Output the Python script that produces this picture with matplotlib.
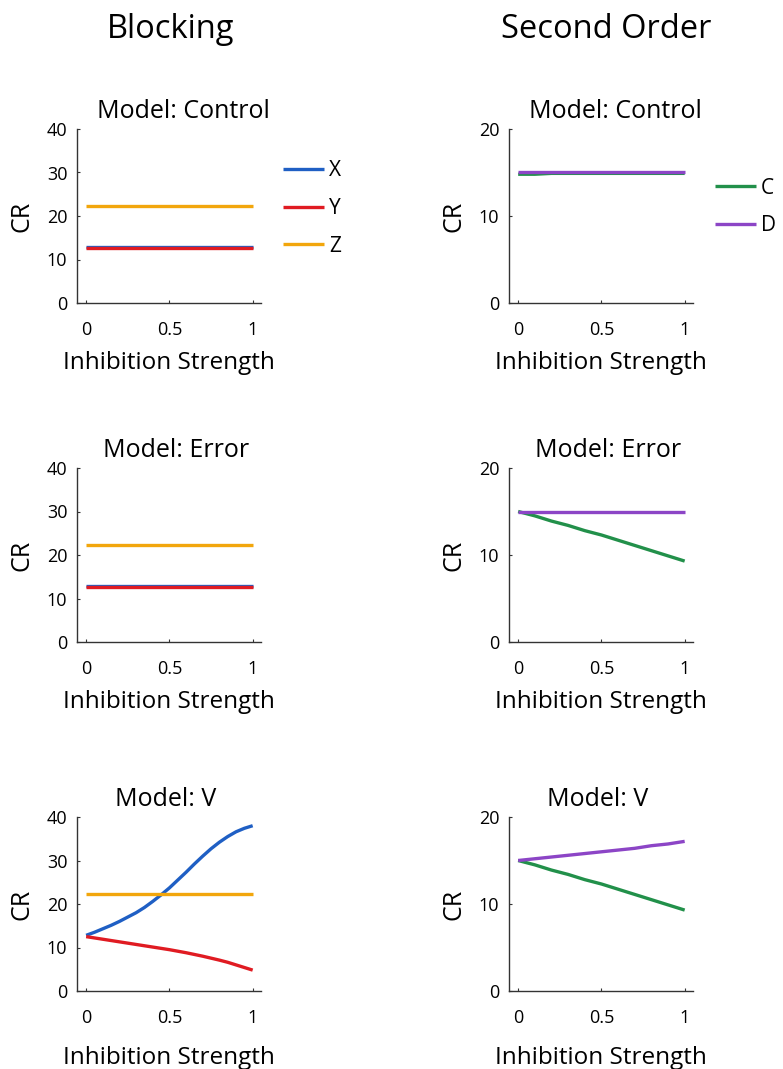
import numpy as np
import matplotlib.pyplot as plt

plt.rcParams['font.family'] = ['Open Sans', 'DejaVu Sans']

# inhibition strength grid
inhib = [0.0, 0.05, 0.1, 0.15, 0.2, 0.25, 0.3, 0.35, 0.4, 0.45, 0.5,
         0.55, 0.6, 0.65, 0.7, 0.75, 0.8, 0.85, 0.9, 0.95, 1.0]

# Blocking: cues X, Y, Z
blk_ctrl_X = [12.95] * 21
blk_ctrl_Y = [12.6] * 21
blk_ctrl_Z = [22.2] * 21

blk_err_X = [12.95] * 21
blk_err_Y = [12.6] * 21
blk_err_Z = [22.2] * 21

blk_v_X = [12.8, 13.5, 14.3, 15.1, 16.0, 17.0, 18.0, 19.2, 20.6, 22.1, 23.7,
           25.5, 27.3, 29.2, 31.0, 32.7, 34.2, 35.5, 36.6, 37.4, 38.0]
blk_v_Y = [12.5, 12.2, 11.9, 11.6, 11.3, 11.0, 10.7, 10.4, 10.1, 9.8, 9.5,
           9.15, 8.8, 8.4, 8.0, 7.55, 7.1, 6.6, 6.0, 5.4, 4.8]
blk_v_Z = [22.2] * 21

# Second order: cues C, D
so_ctrl_C = [14.8, 14.8, 14.8, 14.85, 14.9, 14.9, 14.9, 14.9, 14.9, 14.9, 14.9,
             14.9, 14.9, 14.9, 14.9, 14.9, 14.9, 14.9, 14.9, 14.9, 14.9]
so_ctrl_D = [15.0] * 21

so_err_C = [15.0, 14.75, 14.5, 14.2, 13.9, 13.65, 13.4, 13.1, 12.8, 12.55, 12.3,
            12.0, 11.7, 11.4, 11.1, 10.8, 10.5, 10.2, 9.9, 9.6, 9.3]
so_err_D = [15.0] * 21

so_v_C = [15.0, 14.75, 14.5, 14.2, 13.9, 13.65, 13.4, 13.1, 12.8, 12.55, 12.3,
          12.0, 11.7, 11.4, 11.1, 10.8, 10.5, 10.2, 9.9, 9.6, 9.3]
so_v_D = [15.0, 15.1, 15.2, 15.3, 15.4, 15.5, 15.6, 15.7, 15.8, 15.9, 16.0,
          16.1, 16.2, 16.3, 16.4, 16.55, 16.7, 16.8, 16.9, 17.05, 17.2]

col_titles = ['Blocking', 'Second Order']
row_titles = ['Model: Control', 'Model: Error', 'Model: V']

c_blue = '#1f5fc4'
c_red = '#e01b22'
c_orange = '#f2a60c'
c_green = '#22904a'
c_purple = '#8c45c6'

fig = plt.figure(figsize=(7.83, 10.69), dpi=100)

lefts = [77 / 783, 509 / 783]
width = 184 / 783
bottoms = [1 - 303 / 1069, 1 - 642 / 1069, 1 - 991 / 1069]
height = 174 / 1069
# titles are not quite centred in the original panels
title_x = [0.58, 0.54, 0.48]
xlab_pad = [8.5, 8.5, 13.5]

blk_data = [(blk_ctrl_X, blk_ctrl_Y, blk_ctrl_Z),
            (blk_err_X, blk_err_Y, blk_err_Z),
            (blk_v_X, blk_v_Y, blk_v_Z)]
so_data = [(so_ctrl_C, so_ctrl_D), (so_err_C, so_err_D), (so_v_C, so_v_D)]


def style(ax, ymax, r):
    ax.set_xlim(-0.055, 1.05)
    ax.set_ylim(0, ymax)
    ax.set_xticks([0, 0.5, 1])
    ax.set_xticklabels(['0', '0.5', '1'])
    ax.set_yticks(np.arange(0, ymax + 1, 10))
    for s in ['top', 'right']:
        ax.spines[s].set_visible(False)
    for s in ['left', 'bottom']:
        ax.spines[s].set_color('#333333')
        ax.spines[s].set_linewidth(1.0)
    ax.tick_params(axis='x', direction='in', length=2.5, pad=13, labelsize=13, colors='#333333', labelcolor='black')
    ax.tick_params(axis='y', direction='in', length=2.5, pad=7, labelsize=13, colors='#333333', labelcolor='black')
    ax.set_title(row_titles[r], fontsize=18, pad=8, x=title_x[r])
    ax.set_xlabel('Inhibition Strength', fontsize=17.5, labelpad=xlab_pad[r])
    ax.set_ylabel('CR', fontsize=18, labelpad=9)


for r in range(3):
    ax = fig.add_axes([lefts[0], bottoms[r], width, height])
    X, Y, Z = blk_data[r]
    ax.plot(inhib, X, color=c_blue, lw=2.4, label='X', solid_capstyle='butt')
    ax.plot(inhib, Y, color=c_red, lw=2.4, label='Y', solid_capstyle='butt')
    ax.plot(inhib, Z, color=c_orange, lw=2.4, label='Z', solid_capstyle='butt')
    style(ax, 40, r)
    if r == 0:
        ax.legend(loc='upper left', bbox_to_anchor=(1.12, 0.82), frameon=False,
                  fontsize=15, handlelength=1.95, handletextpad=0.25,
                  labelspacing=0.8, borderpad=0, borderaxespad=0)

    ax = fig.add_axes([lefts[1], bottoms[r], width, height])
    C, D = so_data[r]
    ax.plot(inhib, C, color=c_green, lw=2.4, label='C', solid_capstyle='butt')
    ax.plot(inhib, D, color=c_purple, lw=2.4, label='D', solid_capstyle='butt')
    style(ax, 20, r)
    if r == 0:
        ax.legend(loc='upper left', bbox_to_anchor=(1.12, 0.72), frameon=False,
                  fontsize=15, handlelength=1.95, handletextpad=0.25,
                  labelspacing=0.8, borderpad=0, borderaxespad=0)

fig.text(171 / 783, 1 - 30 / 1069, col_titles[0], ha='center', va='center', fontsize=23.5)
fig.text(606 / 783, 1 - 30 / 1069, col_titles[1], ha='center', va='center', fontsize=23.5)

fig.savefig('out.png', dpi=100)
